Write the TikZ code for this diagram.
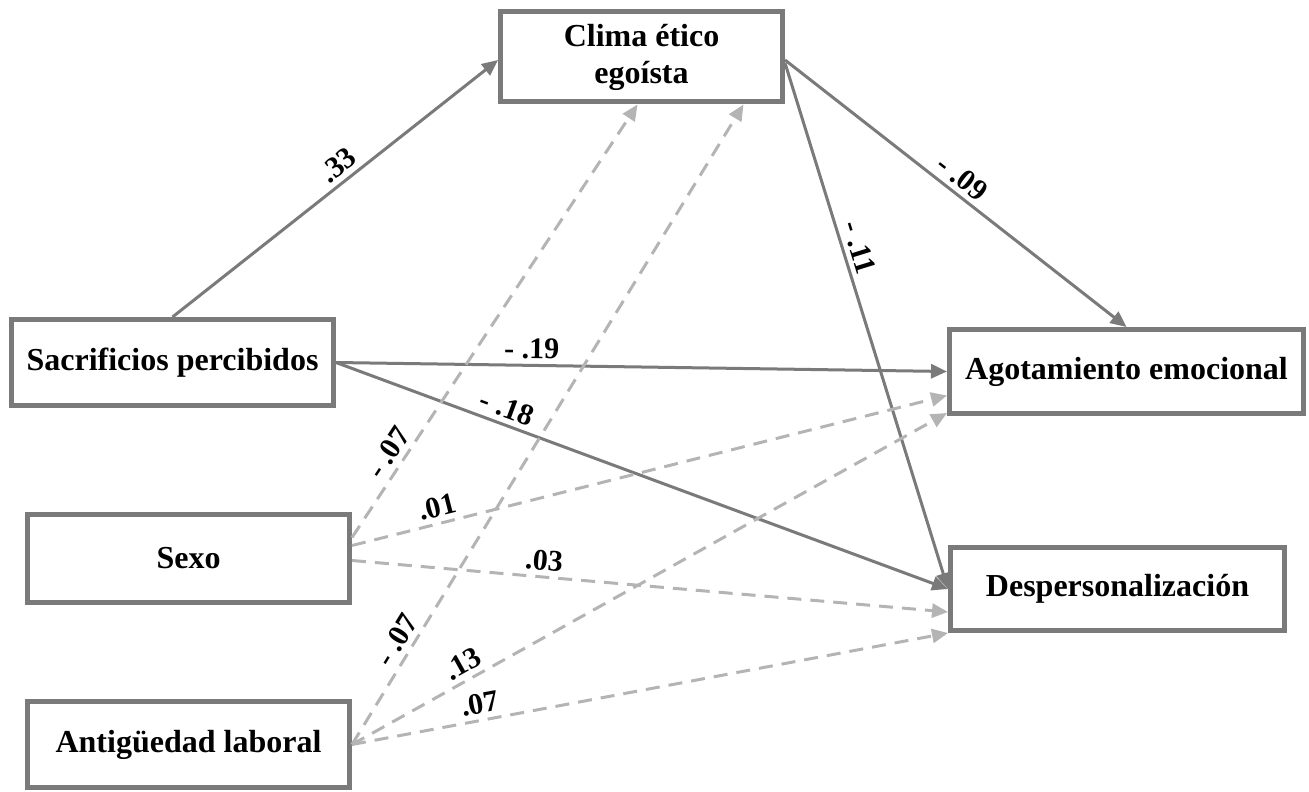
\documentclass[tikz,border=0pt]{standalone}
\usepackage{fontspec}
\setmainfont{Liberation Serif}
\usetikzlibrary{arrows.meta,positioning,calc}
\usepackage{xcolor}
\definecolor{boxgray}{RGB}{122,122,122}
\definecolor{dashgray}{RGB}{180,180,180}

\begin{document}
\begin{tikzpicture}[
    x=0.5pt, y=-0.5pt,
    var/.style={
        draw=boxgray,
        line width=2.5pt,
        rectangle,
        align=center,
        inner sep=2pt,
        font=\bfseries\fontsize{16}{18.5}\selectfont
    },
    effect/.style={draw=boxgray, line width=1.5pt, -{Triangle[length=8pt,width=7pt]}},
    control/.style={draw=dashgray, line width=1.5pt, dash pattern=on 7pt off 4.5pt,
        -{Triangle[length=8pt,width=7pt]}},
    coef/.style={font=\bfseries\fontsize{15}{16}\selectfont, sloped, above, inner sep=2.5pt}
]
\useasboundingbox (0,0) rectangle (1309,791);

% variables
\node[var, minimum width=141pt, minimum height=45pt] (clima) at (641.5,57) {Clima ético\\egoísta};
\node[var, minimum width=161pt, minimum height=43pt] (sacr) at (172.5,362.5) {Sacrificios percibidos};
\node[var, minimum width=161pt, minimum height=44pt] (sexo) at (188.5,558.5) {Sexo};
\node[var, minimum width=161pt, minimum height=43pt] (antig) at (188.5,744.5) {Antigüedad laboral};
\node[var, minimum width=177pt, minimum height=42pt] (agot) at (1126.5,371.5) {Agotamiento emocional};
\node[var, minimum width=167pt, minimum height=41.5pt] (desp) at (1117.5,589) {Despersonalización};

% direct paths
\draw[effect] (sacr.north) -- ($(clima.west)+(0,3)$) node[coef, pos=0.54] {.33};
\draw[effect] (sacr.east) -- (agot.west) node[coef, pos=0.32] {- .19};
\draw[effect] (sacr.east) -- (desp.west) node[coef, pos=0.27] {- .18};
\draw[effect] ($(clima.east)+(0,3)$) -- (agot.north) node[coef, pos=0.49] {- .09};
\draw[effect] ($(clima.east)+(0,6)$) -- (desp.west) node[coef, pos=0.36] {- .11};

% control variables
\draw[control] ($(sexo.east)+(0,-21)$) -- ($(clima.south)+(-4,0)$) node[coef, pos=0.175] {- .07};
\draw[control] ($(sexo.east)+(0,-13)$) -- ($(agot.west)+(0,24)$) node[coef, pos=0.15] {.01};
\draw[control] ($(sexo.east)+(0,2)$) -- ($(desp.west)+(0,23)$) node[coef, pos=0.32] {.03};
\draw[control] (antig.east) -- ($(clima.south)+(102,0)$) node[coef, pos=0.15] {- .07};
\draw[control] (antig.east) -- ($(agot.south west)+(0,-3)$) node[coef, pos=0.2] {.13};
\draw[control] (antig.east) -- (desp.south west) node[coef, pos=0.22] {.07};

\end{tikzpicture}
\end{document}
